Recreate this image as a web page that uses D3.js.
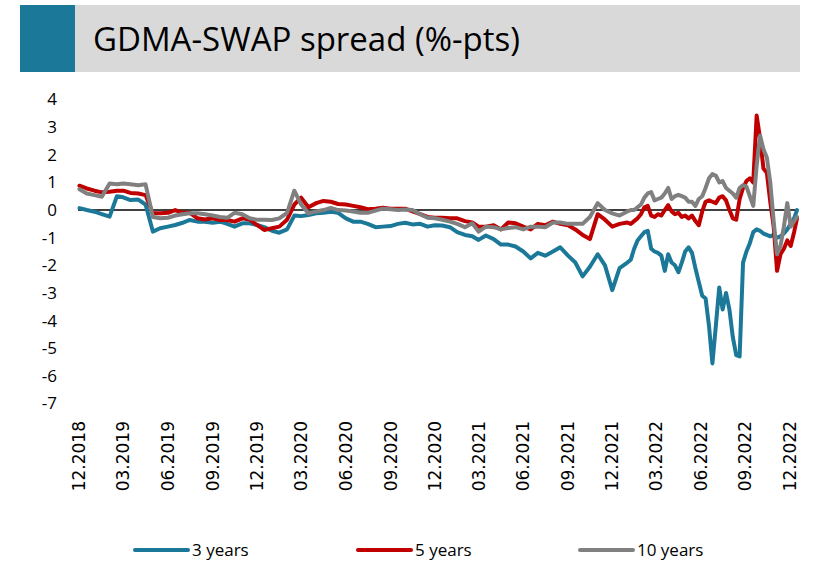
<!DOCTYPE html>
<html><head><meta charset="utf-8">
<script src="https://cdn.jsdelivr.net/npm/d3@7/dist/d3.min.js"></script>
<style>body{margin:0;background:#fff}svg{display:block}</style>
</head><body>
<svg id="c" width="815" height="574"></svg>
<script>
const title = "GDMA-SWAP spread (%-pts)";
const seriesNames = ["3 years", "5 years", "10 years"];
const seriesColors = ["#1b7898", "#c00000", "#808080"];
const yTicks = [4, 3, 2, 1, 0, -1, -2, -3, -4, -5, -6, -7];
const xTickLabels = ["12.2018","03.2019","06.2019","09.2019","12.2019","03.2020","06.2020","09.2020","12.2020","03.2021","06.2021","09.2021","12.2021","03.2022","06.2022","09.2022","12.2022"];

const dates = [
"2018-12-01","2018-12-16",
"2019-01-01","2019-01-16","2019-02-01","2019-02-16","2019-03-01","2019-03-16","2019-04-01","2019-04-16","2019-05-01","2019-05-16","2019-06-01","2019-06-16","2019-07-01","2019-07-16","2019-08-01","2019-08-16","2019-09-01","2019-09-16","2019-10-01","2019-10-16","2019-11-01","2019-11-16","2019-12-01","2019-12-16",
"2020-01-01","2020-01-16","2020-02-01","2020-02-16","2020-03-01","2020-03-16","2020-04-01","2020-04-16","2020-05-01","2020-05-16","2020-06-01","2020-06-16","2020-07-01","2020-07-16","2020-08-01","2020-08-16","2020-09-01","2020-09-16","2020-10-01","2020-10-16","2020-11-01","2020-11-16","2020-12-01","2020-12-16",
"2021-01-01","2021-01-16","2021-02-01","2021-02-16","2021-03-01","2021-03-16","2021-04-01","2021-04-16","2021-05-01","2021-05-16","2021-06-01","2021-06-16","2021-07-01","2021-07-16","2021-08-01","2021-08-16","2021-09-01","2021-09-16","2021-10-01","2021-10-16","2021-11-01","2021-11-16","2021-12-01","2021-12-16",
"2022-01-01","2022-01-08","2022-01-15","2022-01-22","2022-01-29","2022-02-05","2022-02-12","2022-02-19","2022-02-26","2022-03-05","2022-03-12","2022-03-19","2022-03-26","2022-04-02","2022-04-09","2022-04-16","2022-04-23","2022-04-30","2022-05-07","2022-05-14","2022-05-21","2022-05-28","2022-06-04","2022-06-11","2022-06-18","2022-06-25","2022-07-02","2022-07-09","2022-07-16","2022-07-23","2022-07-30","2022-08-06","2022-08-13","2022-08-20","2022-08-27","2022-09-03","2022-09-10","2022-09-17","2022-09-24","2022-10-01","2022-10-08","2022-10-15","2022-10-22","2022-10-29","2022-11-05","2022-11-12","2022-11-19","2022-11-26","2022-12-03","2022-12-10","2022-12-16"
];

const years3 = [
0.07,0.0,
-0.06,-0.15,-0.24,0.5,0.46,0.36,0.38,0.2,-0.78,-0.66,-0.6,-0.54,-0.46,-0.36,-0.42,-0.42,-0.46,-0.42,-0.5,-0.6,-0.48,-0.48,-0.54,-0.62,
-0.75,-0.82,-0.7,-0.2,-0.22,-0.18,-0.12,-0.1,-0.06,-0.1,-0.3,-0.42,-0.42,-0.5,-0.62,-0.6,-0.58,-0.5,-0.46,-0.52,-0.5,-0.6,-0.55,-0.56,
-0.62,-0.8,-0.9,-0.95,-1.08,-0.92,-1.05,-1.25,-1.25,-1.32,-1.5,-1.75,-1.55,-1.65,-1.5,-1.35,-1.65,-1.9,-2.4,-2.05,-1.6,-2.0,-2.9,-2.1,
-1.9,-1.8,-1.4,-1.1,-0.95,-0.8,-0.75,-1.4,-1.5,-1.55,-1.65,-2.2,-1.6,-1.9,-2.0,-2.25,-1.9,-1.5,-1.35,-1.55,-2.1,-2.6,-3.1,-3.2,-4.2,-5.55,-4.2,-2.8,-3.6,-3.0,-3.6,-4.6,-5.25,-5.3,-1.9,-1.5,-1.2,-0.8,-0.7,-0.75,-0.85,-0.9,-0.95,-0.9,-1.0,-0.95,-0.85,-0.7,-0.5,-0.3,0.0
];

const years5 = [
0.88,0.78,
0.7,0.64,0.66,0.7,0.7,0.62,0.6,0.54,-0.12,-0.12,-0.1,0.0,-0.1,-0.1,-0.3,-0.34,-0.3,-0.36,-0.36,-0.42,-0.3,-0.34,-0.54,-0.72,
-0.66,-0.6,-0.35,0.2,0.45,0.1,0.25,0.33,0.3,0.22,0.2,0.15,0.1,0.03,0.05,0.08,0.05,0.05,0.05,-0.05,-0.15,-0.25,-0.28,-0.28,
-0.3,-0.3,-0.4,-0.45,-0.6,-0.6,-0.55,-0.7,-0.45,-0.48,-0.6,-0.7,-0.5,-0.55,-0.42,-0.5,-0.55,-0.7,-0.9,-1.05,-0.15,-0.35,-0.6,-0.5,
-0.45,-0.5,-0.4,-0.3,-0.15,0.1,0.15,-0.2,-0.25,-0.15,-0.2,0.0,0.18,-0.05,-0.15,-0.1,-0.25,-0.2,-0.3,-0.2,-0.4,-0.55,-0.05,0.3,0.35,0.3,0.25,0.45,0.5,0.35,0.0,-0.3,-0.35,0.4,0.8,1.05,1.15,1.0,3.42,2.6,1.5,1.35,0.3,-0.6,-2.2,-1.6,-1.4,-1.1,-1.3,-0.8,-0.3
];

const years10 = [
0.75,0.6,
0.54,0.48,0.96,0.93,0.96,0.93,0.9,0.93,-0.25,-0.3,-0.28,-0.2,-0.15,-0.12,-0.12,-0.15,-0.2,-0.25,-0.28,-0.1,-0.15,-0.3,-0.35,-0.35,
-0.36,-0.3,-0.1,0.7,0.2,-0.12,-0.05,0.0,0.08,0.0,-0.02,-0.05,-0.1,-0.1,-0.02,0.05,0.03,0.0,0.02,0.0,-0.15,-0.28,-0.3,-0.35,
-0.42,-0.5,-0.62,-0.48,-0.78,-0.6,-0.62,-0.7,-0.65,-0.62,-0.7,-0.6,-0.6,-0.62,-0.45,-0.45,-0.5,-0.5,-0.5,-0.25,0.25,0.0,-0.12,-0.2,
-0.05,0.0,0.0,0.1,0.2,0.45,0.6,0.65,0.35,0.4,0.45,0.6,0.8,0.4,0.5,0.55,0.5,0.45,0.3,0.3,0.15,0.4,0.5,0.8,1.15,1.3,1.25,1.0,1.05,0.8,0.7,0.6,0.45,0.8,0.9,0.85,0.5,0.15,1.6,2.7,2.2,1.9,1.0,-0.4,-1.6,-1.3,-0.6,0.25,-0.6,-0.4,-0.25
];

const svg = d3.select("#c");
const parse = d3.timeParse("%Y-%m-%d");
const parseTick = d3.timeParse("%m.%Y");
const dateObjs = dates.map(parse);

const x = d3.scaleTime().domain([parse("2018-11-28"), parse("2022-12-16")]).range([78, 797]);
const y = d3.scaleLinear().domain([-7, 4]).range([403.5, 99.5]);

// Title band
svg.append("rect").attr("x", 20).attr("y", 5).attr("width", 780).attr("height", 67).attr("fill", "#d9d9d9");
svg.append("rect").attr("x", 20).attr("y", 5).attr("width", 55).attr("height", 67).attr("fill", "#1b7898");
svg.append("text").attr("x", 93).attr("y", 51)
  .attr("font-family", "'Open Sans', Lato, sans-serif").attr("font-size", 32).attr("fill", "#000")
  .attr("textLength", 427).attr("lengthAdjust", "spacingAndGlyphs").text(title);

// Y axis labels
svg.append("g").selectAll("text").data(yTicks).join("text")
  .attr("x", 57).attr("y", d => y(d)).attr("dy", "0.35em")
  .attr("text-anchor", "end").attr("font-family", "'Open Sans', Lato, sans-serif")
  .attr("font-size", 17).attr("fill", "#000").text(d => d);

// X axis labels
svg.append("g").selectAll("text").data(xTickLabels).join("text")
  .attr("transform", d => `translate(${x(parseTick(d))},421) rotate(-90)`)
  .attr("dy", "0.35em").attr("text-anchor", "end")
  .attr("font-family", "'DejaVu Sans', Verdana, sans-serif").attr("font-size", 17)
  .attr("fill", "#000").text(d => d);

// Zero line
svg.append("line").attr("x1", x.range()[0]).attr("x2", x.range()[1])
  .attr("y1", y(0)).attr("y2", y(0)).attr("stroke", "#000").attr("stroke-width", 1.5);

// Series
const series = [years3, years5, years10];
const line = d3.line().x((d, i) => x(dateObjs[i])).y(d => y(d));
series.forEach((vals, si) => {
  svg.append("path").datum(vals).attr("d", line)
    .attr("fill", "none").attr("stroke", seriesColors[si]).attr("stroke-width", 4)
    .attr("stroke-linejoin", "round").attr("stroke-linecap", "round");
});

// Legend
const legX = [135, 358, 580];
const leg = svg.append("g").selectAll("g").data(seriesNames).join("g")
  .attr("transform", (d, i) => `translate(${legX[i]},550)`);
leg.append("line").attr("x1", 0).attr("x2", 53).attr("y1", 0).attr("y2", 0)
  .attr("stroke", (d, i) => seriesColors[i]).attr("stroke-width", 4).attr("stroke-linecap", "round");
leg.append("text").attr("x", 57).attr("y", 0).attr("dy", "0.35em")
  .attr("font-family", "'Open Sans', Lato, sans-serif").attr("font-size", 17).attr("fill", "#000").text(d => d);
</script>
</body></html>
